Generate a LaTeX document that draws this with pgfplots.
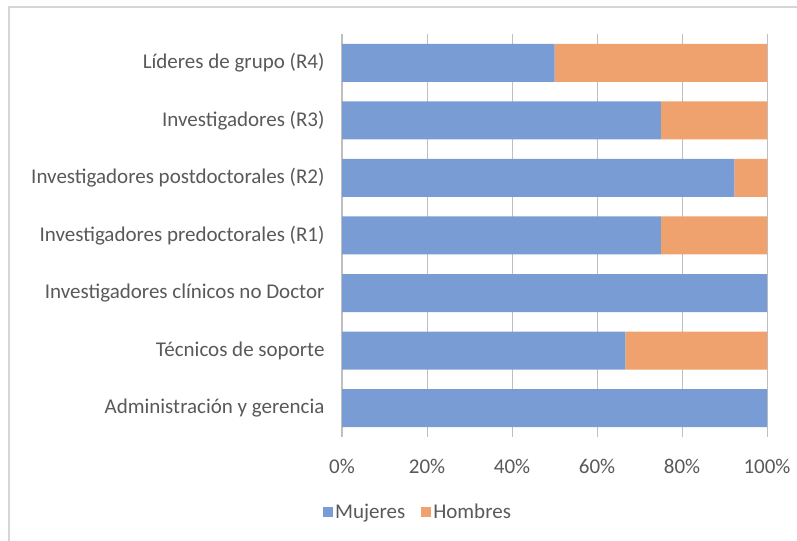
\documentclass[border=0pt]{standalone}
\usepackage{fontspec}
\setmainfont{Carlito}
\usepackage{pgfplots}
\pgfplotsset{compat=1.18}
\definecolor{mblue}{RGB}{122,156,212}
\definecolor{horange}{RGB}{240,162,110}
\definecolor{txt}{RGB}{89,89,89}
\definecolor{grid}{RGB}{217,217,217}
\definecolor{frame}{RGB}{214,214,214}
\begin{document}
\begin{tikzpicture}[x=1bp,y=1bp,font=\fontsize{21bp}{24bp}\selectfont]
\path[use as bounding box] (0,0) rectangle (797,541);
\fill[white] (0,0) rectangle (797,541);
\draw[frame, line width=1.5bp] (9,0) -- (9,534) -- (797,534);
\begin{axis}[
  at={(342bp,104bp)}, anchor=south west,
  scale only axis, width=425bp, height=403bp,
  xbar stacked, bar width=38bp,
  xmin=0, xmax=100, ymin=-0.5, ymax=6.5,
  xtick={0,20,40,60,80,100},
  xticklabels={0\%,20\%,40\%,60\%,80\%,100\%},
  ytick={0,1,2,3,4,5,6},
  yticklabels={Administración y gerencia, Técnicos de soporte, Investigadores clínicos no Doctor, Investigadores predoctorales (R1), Investigadores postdoctorales (R2), Investigadores (R3), Líderes de grupo (R4)},
  major tick length=0pt,
  xmajorgrids, major grid style={grid, line width=1bp},
  axis x line*=bottom, axis y line*=left,
  x axis line style={draw=none},
  y axis line style={draw={rgb,255:red,191;green,191;blue,191}, line width=1.2bp},
  tick label style={text=txt},
  xticklabel style={yshift=-19bp},
  yticklabel style={xshift=-14bp},
  legend columns=2,
  legend style={at={(0.179,-0.185)}, anchor=center, draw=none, fill=none, text=txt,
    /tikz/every even column/.append style={column sep=14bp}},
  legend image code/.code={\fill[#1] (-2bp,-5bp) rectangle (8bp,5bp);},
  clip=false,
]
\addplot[fill=mblue, draw=none] coordinates {(100,0) (66.67,1) (100,2) (75,3) (92.31,4) (75,5) (50,6)};
\addplot[fill=horange, draw=none] coordinates {(0,0) (33.33,1) (0,2) (25,3) (7.69,4) (25,5) (50,6)};
\legend{Mujeres, Hombres}
\end{axis}
\end{tikzpicture}
\end{document}
